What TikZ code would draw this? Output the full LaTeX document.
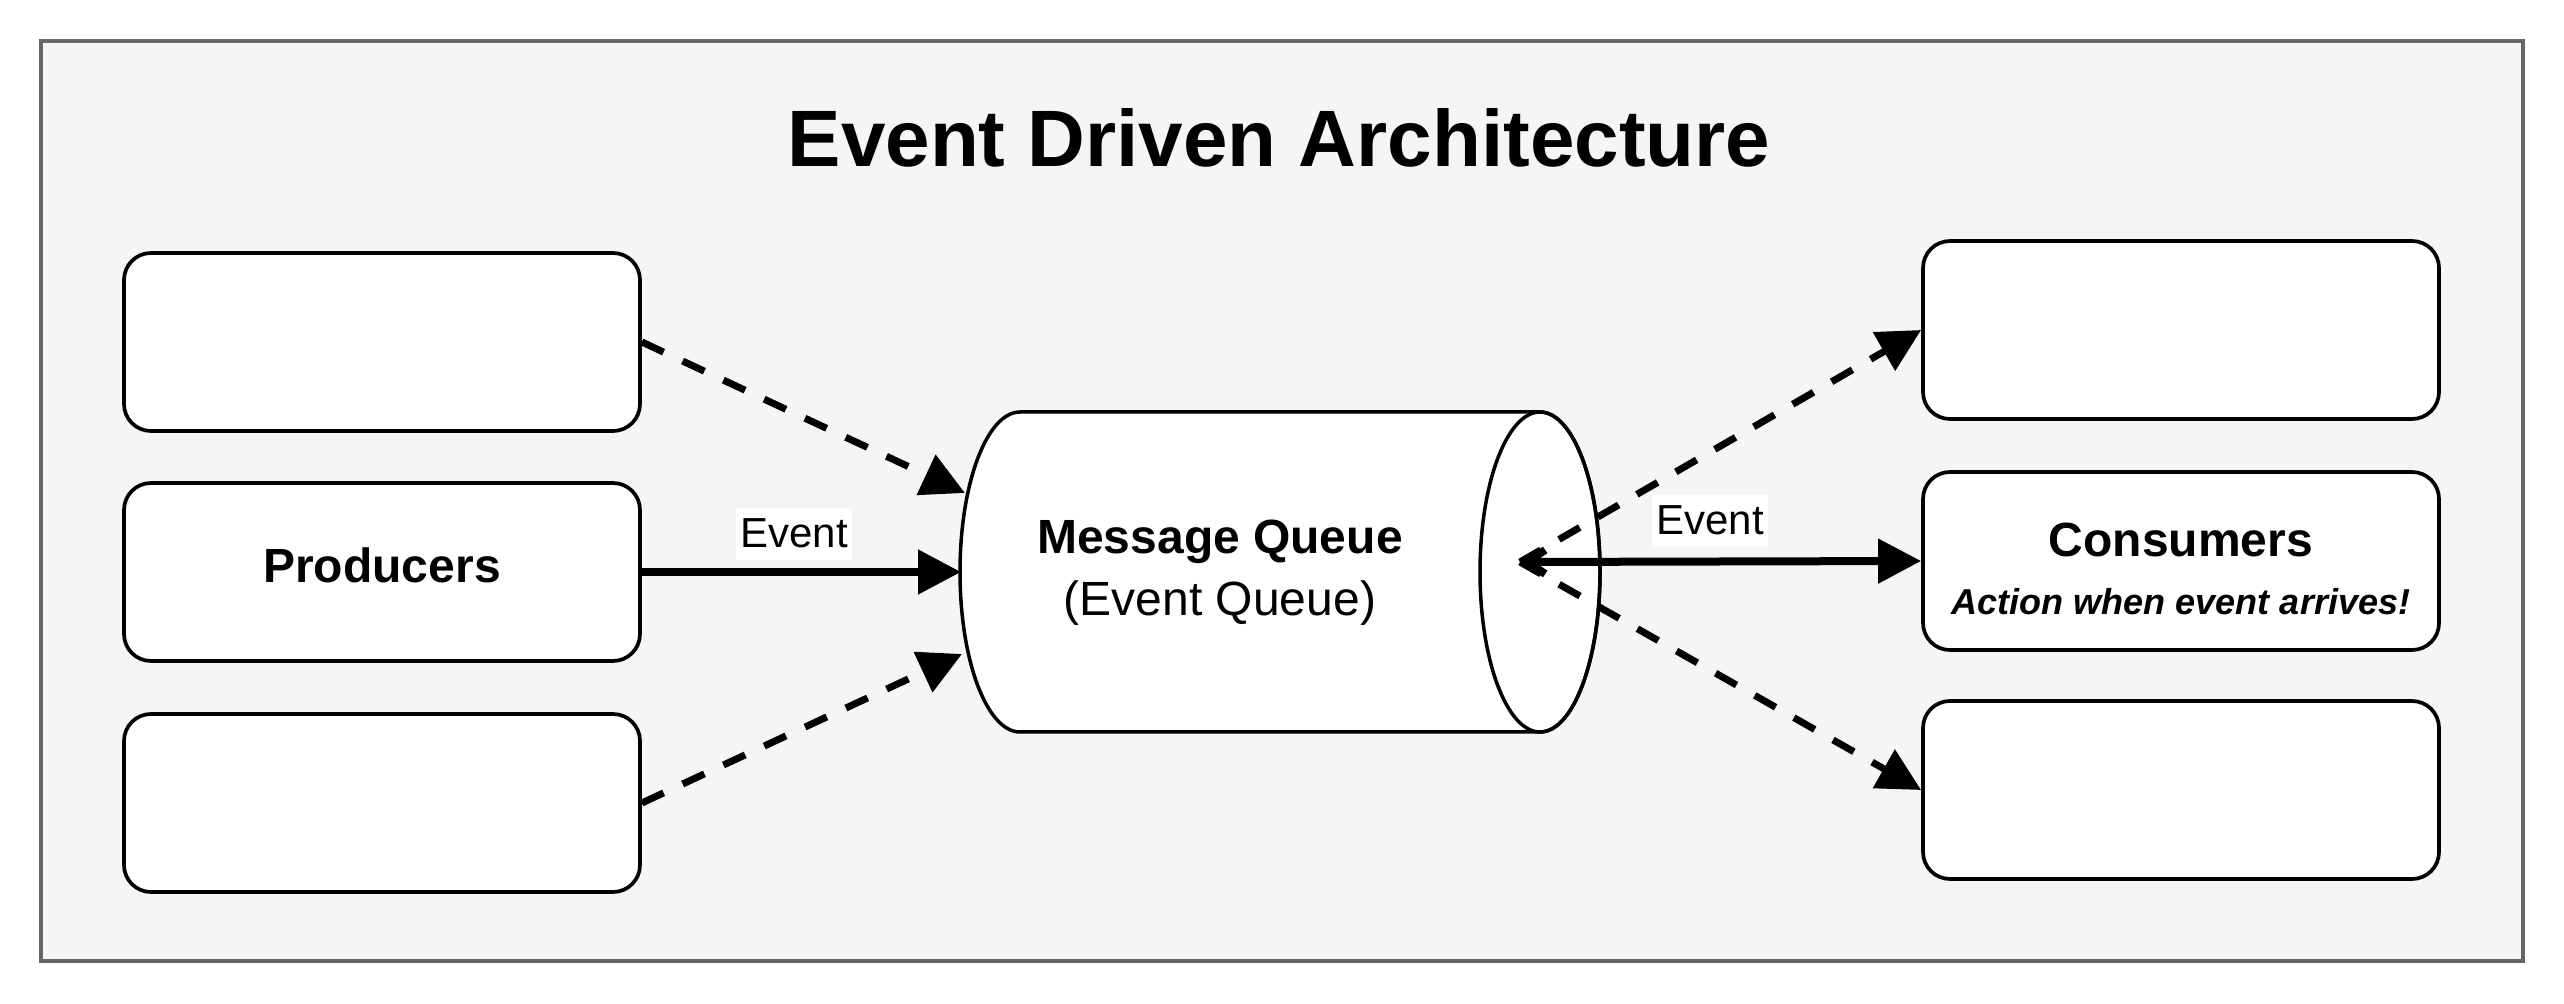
\documentclass[tikz,border=0pt]{standalone}
\usepackage{fontspec}
\setmainfont{Liberation Sans}
\usetikzlibrary{arrows.meta}
\definecolor{framefill}{HTML}{F5F5F5}
\definecolor{framedraw}{HTML}{666666}
\begin{document}
\begin{tikzpicture}[x=0.5pt,y=-0.5pt,
  box/.style={draw=black, fill=white, line width=1.85pt, rounded corners=13.5pt,
    minimum width=258pt, minimum height=89pt, inner sep=0pt},
  tip/.style={-{Triangle[length=21.5pt,width=21.5pt]}},
  dashedge/.style={line width=3.5pt, dash pattern=on 12pt off 10.5pt, tip},
  solidedge/.style={line width=4pt, tip},
  evlabel/.style={fill=white, font=\fontsize{21}{25}\selectfont, inner xsep=2pt,
    inner ysep=5pt, text height=15pt, text depth=1pt, anchor=base},
  boldtext/.style={font=\fontsize{24}{29}\selectfont\bfseries, anchor=base, inner sep=0pt},
]
\path[use as bounding box, fill=white] (0,0) rectangle (2564,1004);
\path[draw=framedraw, fill=framefill, line width=1.6pt] (41,41) rectangle (2523,961);

\node[anchor=base, inner sep=0pt, font=\fontsize{40}{48}\selectfont\bfseries] (title) at (1279,167) {Event Driven Architecture};

% producers
\node[box] (p1) at (382,342) {};
\node[box] (p2) at (382,572) {};
\node[box] (p3) at (382,803) {};
\node[boldtext] (p2t) at (382,583) {Producers};

% consumers
\node[box] (c1) at (2181,330) {};
\node[box] (c2) at (2181,561) {};
\node[box] (c3) at (2181,790) {};
\node[boldtext] (c2t) at (2181,557) {Consumers};
\node[anchor=base, inner sep=0pt, font=\fontsize{18}{22}\selectfont\bfseries\itshape] (c2s) at (2181,615) {Action when event arrives!};

% message queue cylinder
\filldraw[fill=white, draw=black, line width=1.75pt] (1540,412) -- (1020,412)
  arc[start angle=270, end angle=90, x radius=60, y radius=160] -- (1540,732)
  arc[start angle=90, end angle=-90, x radius=60, y radius=160] -- cycle;
\draw[line width=1.75pt] (1540,572) ellipse[x radius=60, y radius=160];
\node[align=center, inner sep=0pt, font=\fontsize{24}{31}\selectfont] (mq) at (1220,573)
  {\textbf{Message Queue}\\(Event Queue)};

\coordinate (qin1) at (965,493);
\coordinate (qin2) at (961,572);
\coordinate (qin3) at (962,654);
\coordinate (qout) at (1520,562);

% connectors
\draw[dashedge] (p1.east) -- (qin1);
\draw[solidedge] (p2.east) -- (qin2);
\draw[dashedge] (p3.east) -- (qin3);
\draw[dashedge] (qout) -- (c1.west);
\draw[line width=4pt, {Straight Barb[length=9pt,width=12pt]}-{Triangle[length=21.5pt,width=21.5pt]}] (qout) -- (c2.west);
\draw[dashedge] (qout) -- (c3.west);

% labels
\node[evlabel] (ev1) at (794,548) {Event};
\node[evlabel] (ev2) at (1710,535) {Event};
\end{tikzpicture}
\end{document}
